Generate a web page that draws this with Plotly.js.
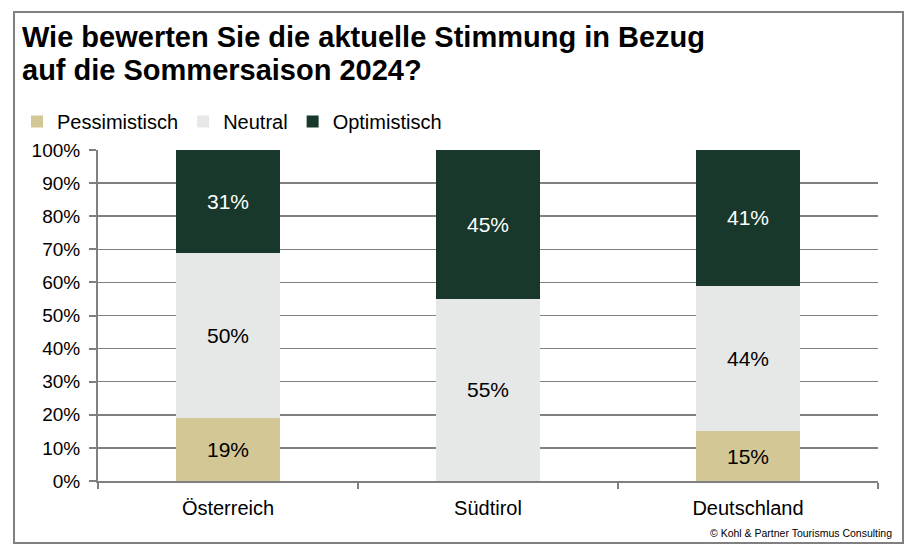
<!DOCTYPE html>
<html>
<head>
<meta charset="utf-8">
<script src="https://cdn.plot.ly/plotly-3.0.1.min.js"></script>
<style>html,body{margin:0;padding:0;background:#fff;}#chart{width:921px;height:555px;}</style>
</head>
<body>
<div id="chart"></div>
<script>
const categories = ["Österreich", "Südtirol", "Deutschland"];
const pessimistisch = [19, 0, 15];
const neutral = [50, 55, 44];
const optimistisch = [31, 45, 41];
const seriesNames = ["Pessimistisch", "Neutral", "Optimistisch"];
const yTickVals = [0, 10, 20, 30, 40, 50, 60, 70, 80, 90, 100];
const yTickText = yTickVals.map(v => v + "%");
const titleLines = ["Wie bewerten Sie die aktuelle Stimmung in Bezug", "auf die Sommersaison 2024?"];
const footer = "© Kohl & Partner Tourismus Consulting";

const FONT = "Liberation Sans, Arial, sans-serif";
const colors = ["#D3C795", "#E5E8E6", "#17382B"];
const textColors = ["#000000", "#000000", "#FFFFFF"];
const seriesVals = [pessimistisch, neutral, optimistisch];

const traces = seriesVals.map((vals, i) => ({
  type: "bar",
  name: seriesNames[i],
  x: categories,
  y: vals,
  marker: {color: colors[i], line: {width: 0}},
  text: vals.map(v => v > 0 ? v + "%" : ""),
  textposition: "inside",
  insidetextanchor: "middle",
  textangle: 0,
  textfont: {family: FONT, size: 21, color: textColors[i]},
  hoverinfo: "none"
}));

const L = 98, R = 43, T = 150, B = 74;
const W = 921 - L - R, H = 555 - T - B;
const px = x => (x - L) / W;
const py = y => (555 - B - y) / H;

const layout = {
  width: 921, height: 555,
  margin: {l: L, r: R, t: T, b: B, pad: 0},
  paper_bgcolor: "#ffffff",
  plot_bgcolor: "#ffffff",
  barmode: "stack",
  bargap: 0.6,
  showlegend: true,
  font: {family: FONT, color: "#000"},
  legend: {
    orientation: "h",
    x: px(17), xanchor: "left",
    y: py(102), yanchor: "top",
    font: {family: FONT, size: 20, color: "#000"},
    traceorder: "normal",
    itemclick: false
  },
  xaxis: {
    type: "category",
    showline: true, linecolor: "#808080", linewidth: 2,
    ticks: "outside", tickson: "boundaries", ticklen: 6, tickwidth: 2, tickcolor: "#808080",
    showgrid: false, zeroline: false,
    tickfont: {family: FONT, size: 20, color: "#000"},
    ticklabelstandoff: 8,
    fixedrange: true
  },
  yaxis: {
    range: [0, 100],
    tickvals: yTickVals, ticktext: yTickText,
    showline: true, linecolor: "#808080", linewidth: 2,
    ticks: "outside", ticklen: 7, tickwidth: 2, tickcolor: "#808080",
    showgrid: true, gridcolor: "#808080", gridwidth: 1.5,
    zeroline: false,
    tickfont: {family: FONT, size: 19, color: "#000"},
    ticklabelstandoff: 5,
    fixedrange: true
  },
  shapes: [{
    type: "rect", xref: "paper", yref: "paper",
    x0: px(14), x1: px(903), y0: py(543), y1: py(12),
    line: {color: "#808080", width: 2}, fillcolor: "rgba(0,0,0,0)", layer: "below"
  }],
  annotations: [
    {
      text: "<b>" + titleLines[0] + "</b>",
      xref: "paper", yref: "paper",
      x: px(20), xanchor: "left", y: py(37), yanchor: "middle",
      showarrow: false, font: {family: FONT, size: 29, color: "#000"}
    },
    {
      text: "<b>" + titleLines[1] + "</b>",
      xref: "paper", yref: "paper",
      x: px(20), xanchor: "left", y: py(70), yanchor: "middle",
      showarrow: false, font: {family: FONT, size: 29, color: "#000"}
    },
    {
      text: footer,
      xref: "paper", yref: "paper",
      x: px(894), xanchor: "right",
      y: py(533), yanchor: "middle",
      showarrow: false,
      font: {family: FONT, size: 10.5, color: "#000"}
    }
  ]
};

Plotly.newPlot("chart", traces, layout, {displayModeBar: false, staticPlot: true});
</script>
</body>
</html>
